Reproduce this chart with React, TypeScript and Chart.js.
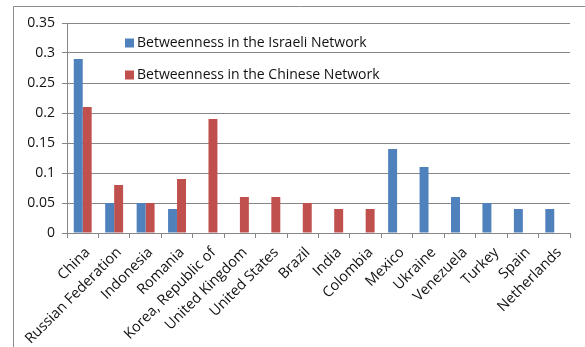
import React, { useEffect, useRef } from "react";
import { Chart, registerables } from "chart.js";

Chart.register(...registerables);

const categories = [
  "China",
  "Russian Federation",
  "Indonesia",
  "Romania",
  "Korea, Republic of",
  "United Kingdom",
  "United States",
  "Brazil",
  "India",
  "Colombia",
  "Mexico",
  "Ukraine",
  "Venezuela",
  "Turkey",
  "Spain",
  "Netherlands",
];

const israeliValues: (number | null)[] = [
  0.29, 0.05, 0.05, 0.04, null, null, null, null, null, null, 0.14, 0.11, 0.06, 0.05, 0.04, 0.04,
];

const chineseValues: (number | null)[] = [
  0.21, 0.08, 0.05, 0.09, 0.19, 0.06, 0.06, 0.05, 0.04, 0.04, null, null, null, null, null, null,
];

const seriesNames = ["Betweenness in the Israeli Network", "Betweenness in the Chinese Network"];
const seriesColors = ["#4F81BD", "#C0504D"];

const FONT = "Open Sans";

export default function App() {
  const ref = useRef<HTMLCanvasElement | null>(null);

  useEffect(() => {
    const canvas = ref.current;
    if (!canvas) return;

    const framePlugin = {
      id: "frame",
      beforeDraw(chart: any) {
        const ctx = chart.ctx;
        ctx.save();
        ctx.strokeStyle = "#8c8c8c";
        ctx.lineWidth = 1;
        ctx.beginPath();
        ctx.moveTo(13.5, 347);
        ctx.lineTo(13.5, 6.5);
        ctx.lineTo(585, 6.5);
        ctx.stroke();
        ctx.restore();
      },
    };

    const legendPlugin = {
      id: "customLegend",
      afterDraw(chart: any) {
        const ctx = chart.ctx;
        ctx.save();
        const rows = [43, 75];
        ctx.font = `14px "${FONT}"`;
        ctx.textBaseline = "middle";
        ctx.textAlign = "left";
        seriesNames.forEach((name, i) => {
          ctx.fillStyle = seriesColors[i];
          ctx.fillRect(125, rows[i] - 4.5, 9, 9);
          ctx.fillStyle = "#111";
          ctx.fillText(name, 137, rows[i]);
        });
        ctx.restore();
      },
    };

    const chart = new Chart(canvas, {
      type: "bar",
      data: {
        labels: categories,
        datasets: [
          {
            label: seriesNames[0],
            data: israeliValues,
            backgroundColor: seriesColors[0],
            categoryPercentage: 0.57,
            barPercentage: 1,
          },
          {
            label: seriesNames[1],
            data: chineseValues,
            backgroundColor: seriesColors[1],
            categoryPercentage: 0.57,
            barPercentage: 1,
          },
        ],
      },
      options: {
        responsive: false,
        animation: false,
        devicePixelRatio: 1,
        layout: { padding: { left: 0, right: 15, top: 23, bottom: 0 } },
        plugins: {
          legend: { display: false },
          tooltip: { enabled: false },
        },
        scales: {
          x: {
            offset: true,
            grid: {
              offset: true,
              drawOnChartArea: false,
              drawTicks: true,
              tickLength: 5,
              color: "#868686",
            },
            border: { color: "#868686" },
            ticks: {
              minRotation: 45,
              maxRotation: 45,
              autoSkip: false,
              padding: 6,
              labelOffset: 5,
              color: "#111",
              font: { family: FONT, size: 14.5 },
            },
            afterFit(scale: any) {
              scale.height = 347 - 233;
            },
          },
          y: {
            min: 0,
            max: 0.35,
            ticks: {
              stepSize: 0.05,
              padding: 7,
              color: "#111",
              font: { family: FONT, size: 14 },
              callback: (v: any) => String(Math.round(Number(v) * 100) / 100),
            },
            grid: { color: "#868686", tickLength: 5 },
            border: { color: "#868686" },
            afterFit(scale: any) {
              scale.width = 67;
            },
          },
        },
      },
      plugins: [framePlugin, legendPlugin],
    });

    return () => chart.destroy();
  }, []);

  return (
    <div style={{ position: "fixed", left: 0, top: 0, width: 585, height: 347, background: "#fff" }}>
      <canvas ref={ref} width={585} height={347} style={{ display: "block" }} />
    </div>
  );
}
